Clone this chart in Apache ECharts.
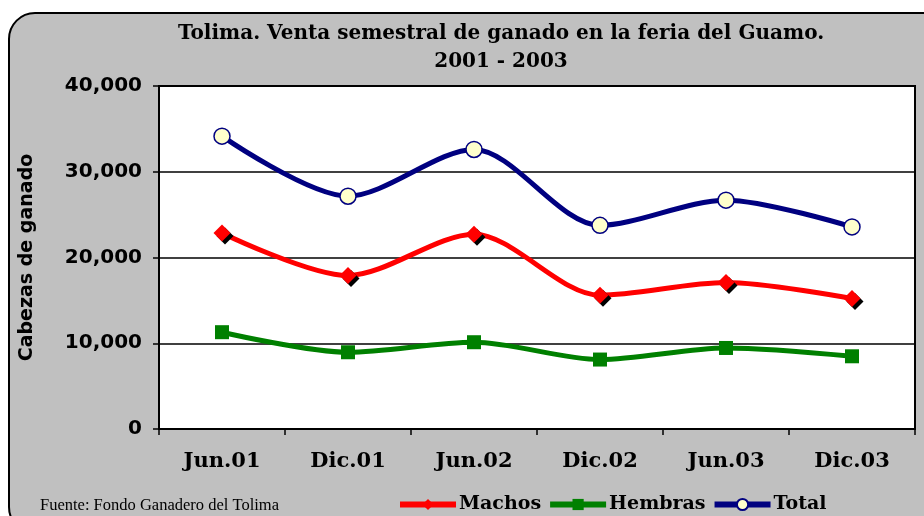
<!DOCTYPE html>
<html>
<head>
<meta charset="utf-8">
<script src="https://cdn.jsdelivr.net/npm/echarts@6/dist/echarts.min.js"></script>
<style>
  html, body { margin: 0; padding: 0; background: #fff; }
  #chart { width: 924px; height: 516px; }
</style>
</head>
<body>
<div id="chart"></div>
<script>
const categories = ['Jun.01', 'Dic.01', 'Jun.02', 'Dic.02', 'Jun.03', 'Dic.03'];
const machos = [22870, 17900, 22720, 15600, 17080, 15210];
const hembras = [11290, 8950, 10120, 8100, 9450, 8480];
const total = [34150, 27150, 32600, 23750, 26690, 23570];
const yTicks = [0, 10000, 20000, 30000, 40000];

const chart = echarts.init(document.getElementById('chart'), null, { renderer: 'canvas' });

const serifBold = { fontFamily: 'DejaVu Serif', fontWeight: 'bold', color: '#000' };

const option = {
  animation: false,
  backgroundColor: '#fff',
  title: {
    text: 'Tolima. Venta semestral de ganado en la feria del Guamo.\n2001 - 2003',
    left: 496,
    textAlign: 'center',
    top: 15,
    textStyle: Object.assign({ fontSize: 20, lineHeight: 28 }, serifBold)
  },
  graphic: [
    {
      type: 'rect',
      z: -10,
      shape: { x: 9, y: 13, width: 940, height: 520, r: 26 },
      style: { fill: '#C0C0C0', stroke: '#000', lineWidth: 2 }
    },
    {
      type: 'text',
      left: 40,
      top: 497,
      style: {
        text: 'Fuente: Fondo Ganadero del Tolima',
        fontFamily: 'Liberation Serif',
        fontSize: 16.5,
        fill: '#000'
      }
    }
  ],
  legend: {
    left: 392,
    top: 490,
    itemWidth: 56,
    itemHeight: 14,
    itemGap: 6,
    lineStyle: { width: 6 },
    textStyle: Object.assign({ fontSize: 19, padding: [0, 0, 0, -2] }, serifBold),
    data: ['Machos', 'Hembras', 'Total']
  },
  grid: {
    left: 159,
    top: 86,
    right: 9,
    bottom: 87,
    show: true,
    backgroundColor: '#fff',
    borderColor: '#000',
    borderWidth: 2
  },
  xAxis: {
    type: 'category',
    data: categories,
    boundaryGap: true,
    axisLine: { lineStyle: { color: '#000', width: 2 } },
    axisTick: { show: true, length: 6, lineStyle: { color: '#000', width: 1.5 } },
    axisLabel: Object.assign({ fontSize: 21, margin: 22 }, serifBold)
  },
  yAxis: {
    type: 'value',
    min: yTicks[0],
    max: yTicks[yTicks.length - 1],
    interval: 10000,
    name: 'Cabezas de ganado',
    nameLocation: 'middle',
    nameGap: 122,
    nameTextStyle: { fontFamily: 'DejaVu Sans', fontWeight: 'bold', fontSize: 19, color: '#000' },
    axisLine: { show: true, lineStyle: { color: '#000', width: 2 } },
    axisTick: { show: true, length: 6, lineStyle: { color: '#000', width: 1.5 } },
    axisLabel: {
      fontFamily: 'DejaVu Sans', fontWeight: 'bold', fontSize: 20, color: '#000', margin: 17,
      formatter: v => v.toLocaleString('en-US')
    },
    splitLine: { lineStyle: { color: '#000', width: 1.5 } }
  },
  series: [
    {
      name: 'Machos',
      type: 'line',
      data: machos,
      smooth: 0.3,
      symbol: 'diamond',
      symbolSize: 17,
      lineStyle: { color: '#FF0000', width: 5 },
      itemStyle: { color: '#FF0000', shadowColor: '#000', shadowBlur: 0, shadowOffsetX: 3, shadowOffsetY: 3 },
      z: 3
    },
    {
      name: 'Hembras',
      type: 'line',
      data: hembras,
      smooth: 0.3,
      symbol: 'rect',
      symbolSize: 14,
      lineStyle: { color: '#008000', width: 5 },
      itemStyle: { color: '#008000' },
      z: 3
    },
    {
      name: 'Total',
      type: 'line',
      data: total,
      smooth: 0.3,
      symbol: 'circle',
      symbolSize: 16,
      lineStyle: { color: '#000080', width: 5 },
      itemStyle: { color: '#FFFFCC', borderColor: '#000080', borderWidth: 1.5 },
      z: 3
    }
  ]
};

chart.setOption(option);
</script>
</body>
</html>
